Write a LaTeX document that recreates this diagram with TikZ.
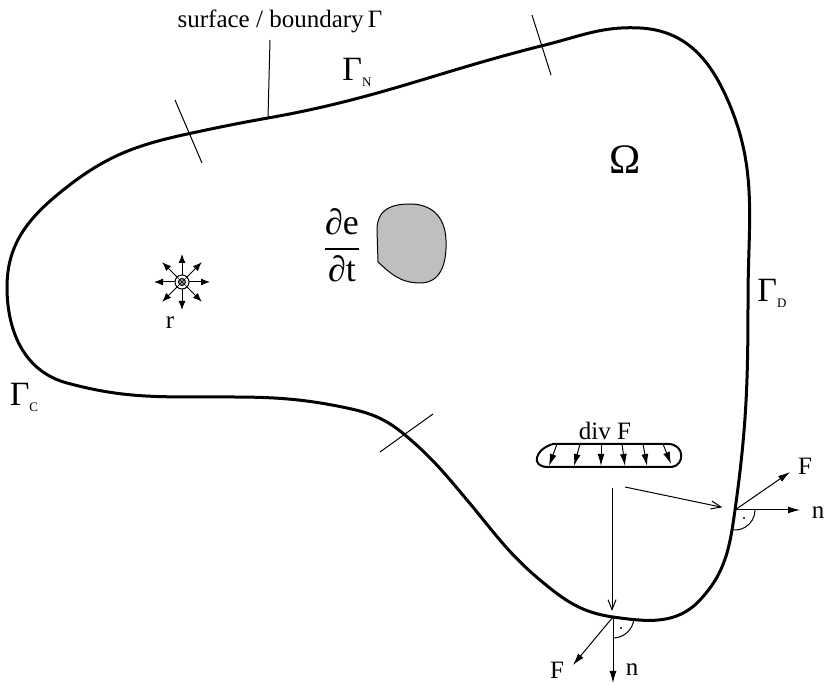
\documentclass[tikz,border=0pt]{standalone}
\usepackage{fontspec}
\setmainfont{Liberation Serif}
\usepackage{amsmath}
\usetikzlibrary{arrows.meta}
\usetikzlibrary{math}

\tikzset{
  boundary/.style={line width=1.5pt},
  thinline/.style={line width=0.5pt},
  flux/.style={line width=0.5pt,-{Latex[length=6pt,width=3.5pt]}},
  srcarrow/.style={line width=0.5pt,-{Latex[length=4.5pt,width=3.5pt]}},
  openarrow/.style={line width=0.5pt,-{Straight Barb[length=5pt,width=4pt]}},
  gam/.style={font=\fontsize{17}{17}\selectfont},
  lbl/.style={font=\fontsize{12.5}{14}\selectfont},
}
\newcommand{\gsub}[1]{Γ\raisebox{-3pt}{\fontsize{6.5}{7}\selectfont #1}}

\begin{document}
\begin{tikzpicture}[x=0.5pt,y=0.5pt]
\tikzmath{
\R=28;
\r=7;
}
\useasboundingbox (0,0) rectangle (825,685);

% points on the boundary
\coordinate (west) at (7,398);
\coordinate (nw) at (67,498);
\coordinate (tickA) at (192,552);
\coordinate (lead) at (268,567);
\coordinate (tickB) at (545,640);
\coordinate (top) at (640,657);
\coordinate (ne) at (723,595);
\coordinate (east) at (748,385);
\coordinate (rpt) at (735,175);
\coordinate (se) at (700,85);
\coordinate (bot) at (613,68);
\coordinate (s1) at (540,105);
\coordinate (s2) at (467,185);
\coordinate (tickC) at (405,250);
\coordinate (s3) at (347,277);
\coordinate (s4) at (200,288);
\coordinate (sw) at (67,302);

\draw[boundary] (west) to [out=90,in=218] (nw) to [out=38,in=192] (tickA) to [out=12,in=190] (lead) to [out=10,in=194] (tickB) to [out=14,in=177] (top) to [out=-3,in=116] (ne) to [out=-64,in=90] (east) to [out=-90,in=82] (rpt) to [out=-98,in=47] (se) to [out=-133,in=-8] (bot) to [out=172,in=-40] (s1) to [out=140,in=-50] (s2) to [out=130,in=-40] (tickC) to [out=140,in=-12] (s3) to [out=168,in=0] (s4) to [out=180,in=-15] (sw) to [out=165,in=-90] (west);

\draw[thinline] (175,585) -- (202,522);
\draw[thinline] (532,670) -- (551,610);
\draw[thinline] (380,233) -- (433,271);

\node[lbl] (surf) at (280,664) {surface / boundary\,Γ};
\coordinate (leadtop) at (270,645);
\draw[thinline] (leadtop) -- (lead);

\node[gam] (gN) at (357,613) {\gsub{N}};
\node[gam] (gD) at (772,392) {\gsub{D}};
\node[gam] (gC) at (24,288) {\gsub{C}};
\node[font=\fontsize{21}{21}\selectfont] (omega) at (625,525) {Ω};

% source r
\coordinate (src) at (182,403);
\foreach \a in {0,45,...,315}
  \draw[srcarrow] (src) -- ++(\a:\R);
\draw[thinline,fill=white] (src) circle (\r);
\draw[thinline,fill=gray!70] (src) circle (3.5);
\draw[line width=0.3pt] (176,397) -- (188,409) (176,409) -- (188,397);
\node[lbl] (rlbl) at (170,362) {r};

% rate of change
\node[font=\fontsize{18}{20}\selectfont] (rate) at (342,440) {$\dfrac{\mbox{∂e}}{\mbox{∂t}}$};
\draw[thinline,fill=gray!50] (378,423) -- (377,455) .. controls (377,478) and (395,481) .. (410,481) .. controls (430,481) and (445,470) .. (446,445) .. controls (447,420) and (440,402) .. (420,402) .. controls (400,402) and (390,412) .. cycle;

% divergence
\node[lbl] (divlbl) at (605,254) {div F};
\draw[boundary,line width=1pt] (553,241) -- (668,241) .. controls (685,241) and (685,220) .. (672,218) -- (548,218) .. controls (530,218) and (535,236) .. cycle;
\draw[flux] (557,241) -- (549,219);
\draw[flux] (580,241) -- (574,219);
\draw[flux] (601,241) -- (601,219);
\draw[flux] (622,241) -- (625,219);
\draw[flux] (643,241) -- (647,219);
\draw[flux] (663,241) -- (671,221);

\coordinate (fluxA) at (612,197);
\coordinate (fluxB) at (625,198);
\draw[openarrow,shorten >=3pt] (fluxA) -- (fluxA |- bot);
\draw[openarrow,shorten >=6.5pt] (fluxB) -- (rpt);

% right normal
\coordinate (rF) at (790,213);
\coordinate (rn) at (800,175);
\draw[flux] (rpt) -- (rF);
\draw[flux] (rpt) -- (rn);
\node[lbl] (rFlbl) at (805,219) {F};
\node[lbl] (rnlbl) at (818,172) {n};
\draw[thinline] ([shift={(0:20)}]rpt) arc[start angle=0,end angle=-95,radius=20];
\fill (744,167) circle (1.2);

% bottom normal
\coordinate (bF) at (573,20);
\coordinate (bn) at (613,2);
\draw[flux] (bot) -- (bF);
\draw[flux] (bot) -- (bn);
\node[lbl] (bFlbl) at (557,15) {F};
\node[lbl] (bnlbl) at (632,15) {n};
\draw[thinline] ([shift={(-5:21)}]bot) arc[start angle=-5,end angle=-90,radius=21];
\fill (621,57) circle (1.2);

\end{tikzpicture}
\end{document}
